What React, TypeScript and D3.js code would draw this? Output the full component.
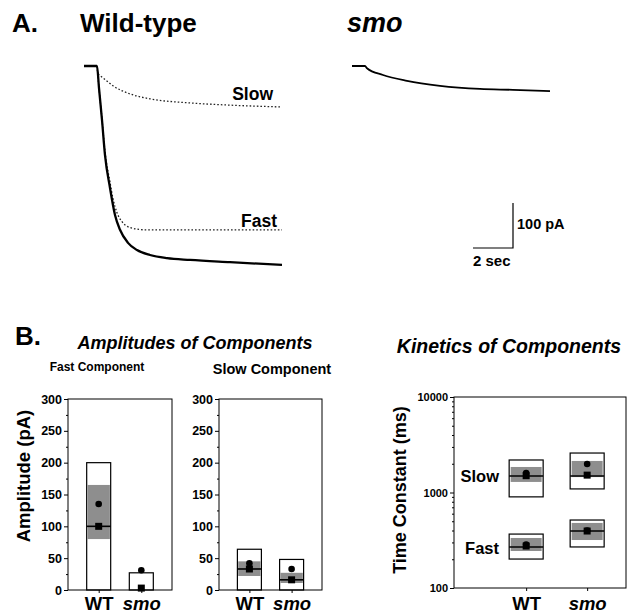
import * as d3 from "d3";
import { useEffect, useRef } from "react";

// Panel A traces (time in s, current in pA)
const wtTime = [0, 0.65, 0.75, 0.9, 1.05, 1.3, 1.55, 1.8, 2.2, 2.65, 3.3, 4.15, 5.3, 7.3, 9.9];
const wtCurrent = [0, 0, -49, -120, -198, -271, -331, -364, -393, -409, -420, -427, -431, -436, -442];
const slowFitTime = [0.7, 1.05, 1.45, 2.3, 3.3, 5.3, 7.3, 9.9];
const slowFitCurrent = [-18, -30, -44, -62, -73, -82, -87, -91];
const fastFitTime = [0.65, 0.75, 0.9, 1.05, 1.3, 1.45, 1.65, 1.9, 2.3, 3.05, 9.9];
const fastFitCurrent = [0, -49, -118, -190, -258, -295, -326, -346, -359, -364, -364];
const smoTime = [0, 0.65, 0.75, 1.55, 2.75, 4.4, 6.4, 8.05, 9.9];
const smoCurrent = [0, 0, -5, -20, -33, -44, -51, -53, -56];

// Panel B
const groups = ["WT", "smo"];
const ampTicks = [0, 50, 100, 150, 200, 250, 300];
const ampMinor = [25, 75, 125, 175, 225, 275];
const tauTicks = [100, 1000, 10000];
const tauMinor = [200, 300, 400, 500, 600, 700, 800, 900, 2000, 3000, 4000, 5000, 6000, 7000, 8000, 9000];

// amplitudes, pA (null = not drawn)
const fastAmpMax = [200, 27];
const fastAmpMin = [0, 0];
const fastAmpGreyLo = [80, null];
const fastAmpGreyHi = [165, null];
const fastAmpMedian = [100, null];
const fastAmpCircle = [135, 31];
const fastAmpSquare = [100, 3];

const slowAmpMax = [64, 48];
const slowAmpMin = [0, 0];
const slowAmpGreyLo = [22, 11];
const slowAmpGreyHi = [45, 27];
const slowAmpMedian = [33, 16];
const slowAmpCircle = [42, 33];
const slowAmpSquare = [33, 16];

// time constants, ms
const slowTauMax = [2190, 2590];
const slowTauMin = [900, 1090];
const slowTauGreyLo = [1290, 1450];
const slowTauGreyHi = [1850, 2140];
const slowTauMedian = [1490, 1490];
const slowTauCircle = [1600, 1990];
const slowTauSquare = [1500, 1520];

const fastTauMax = [367, 515];
const fastTauMin = [201, 269];
const fastTauGreyLo = [244, 318];
const fastTauGreyHi = [334, 480];
const fastTauMedian = [269, 395];
const fastTauCircle = [285, 400];
const fastTauSquare = [275, 395];

const FONT = "'Liberation Sans', Arial, Helvetica, sans-serif";
const GREY = "#8e8e8e";

function addText(g: any, x: number, y: number, str: string, size: number, opts: any = {}) {
  return g
    .append("text")
    .attr("x", x)
    .attr("y", y)
    .attr("font-family", FONT)
    .attr("font-weight", "bold")
    .attr("font-style", opts.italic ? "italic" : "normal")
    .attr("font-size", size)
    .attr("text-anchor", opts.anchor || "start")
    .attr("fill", "#000")
    .text(str);
}

function drawBoxes(g: any, x: any, y: any, w: number, s: any, inset: number) {
  groups.forEach((grp, i) => {
    const cx = x(grp);
    const top = y(s.max[i]);
    const bot = y(s.min[i]);
    g.append("rect")
      .attr("x", cx - w / 2)
      .attr("y", top)
      .attr("width", w)
      .attr("height", bot - top)
      .attr("fill", "#fff")
      .attr("stroke", "#000")
      .attr("stroke-width", 1.2);
    if (s.greyLo[i] != null) {
      g.append("rect")
        .attr("x", cx - w / 2 + inset)
        .attr("y", y(s.greyHi[i]))
        .attr("width", w - 2 * inset)
        .attr("height", y(s.greyLo[i]) - y(s.greyHi[i]))
        .attr("fill", GREY);
    }
    if (s.median[i] != null) {
      g.append("line")
        .attr("x1", cx - w / 2)
        .attr("x2", cx + w / 2)
        .attr("y1", y(s.median[i]))
        .attr("y2", y(s.median[i]))
        .attr("stroke", "#000")
        .attr("stroke-width", 1.6);
    }
    g.append("rect")
      .attr("x", cx - 3.5)
      .attr("y", y(s.square[i]) - 3.5)
      .attr("width", 7)
      .attr("height", 7)
      .attr("fill", "#000");
    g.append("circle")
      .attr("cx", cx)
      .attr("cy", y(s.circle[i]))
      .attr("r", 3.3)
      .attr("fill", "#000");
  });
}

function styleAxis(a: any, size: number) {
  a.select(".domain").remove();
  a.attr("font-family", FONT).attr("font-size", size).attr("font-weight", "bold");
  a.selectAll("line").attr("stroke", "#000");
  a.selectAll("text").attr("fill", "#000");
}

function drawAmpPlot(svg: any, left: number, right: number, s: any) {
  const top = 399,
    bottom = 590;
  const y = d3.scaleLinear().domain([0, 300]).range([bottom, top]);
  const x = d3.scalePoint().domain(groups).range([left, right]).padding(0.72);
  const g = svg.append("g");

  drawBoxes(g, x, y, 24, s, 0.8);

  g.append("rect")
    .attr("x", left)
    .attr("y", top)
    .attr("width", right - left)
    .attr("height", bottom - top)
    .attr("fill", "none")
    .attr("stroke", "#000")
    .attr("stroke-width", 1);

  g.append("g")
    .attr("transform", `translate(${left},0)`)
    .call(d3.axisLeft(y).tickValues(ampTicks).tickSize(4).tickPadding(2))
    .call((a: any) => styleAxis(a, 12.5));
  g.append("g")
    .attr("transform", `translate(${left},0)`)
    .call(d3.axisLeft(y).tickValues(ampMinor).tickSize(2).tickFormat(() => ""))
    .call((a: any) => styleAxis(a, 10));
  g.append("g")
    .attr("transform", `translate(0,${bottom})`)
    .call(d3.axisBottom(x).tickSize(3).tickPadding(4))
    .call((a: any) => {
      styleAxis(a, 18.5);
      a.selectAll("text").attr("font-style", (d: string) => (d === "smo" ? "italic" : "normal"));
    });
}

function drawTraces(svg: any) {
  const g = svg.append("g");
  const wtX = d3.scaleLinear().domain([0, 9.9]).range([84, 282]);
  const smoX = d3.scaleLinear().domain([0, 9.9]).range([352, 550]);
  const y = d3.scaleLinear().domain([0, -100]).range([66, 111]);

  const line = (xs: any, ts: number[], is: number[]) =>
    d3
      .line<number>()
      .x((_, i) => xs(ts[i]))
      .y((d) => y(d))
      .curve(d3.curveMonotoneX)(is);

  g.append("path")
    .attr("d", line(wtX, slowFitTime, slowFitCurrent))
    .attr("fill", "none")
    .attr("stroke", "#222")
    .attr("stroke-width", 1.3)
    .attr("stroke-dasharray", "1.6,2");
  g.append("path")
    .attr("d", line(wtX, fastFitTime, fastFitCurrent))
    .attr("fill", "none")
    .attr("stroke", "#222")
    .attr("stroke-width", 1.3)
    .attr("stroke-dasharray", "1.6,2");
  g.append("path")
    .attr("d", line(wtX, wtTime, wtCurrent))
    .attr("fill", "none")
    .attr("stroke", "#000")
    .attr("stroke-width", 2.3);
  g.append("path")
    .attr("d", line(smoX, smoTime, smoCurrent))
    .attr("fill", "none")
    .attr("stroke", "#000")
    .attr("stroke-width", 1.8);

  // scale bar: 100 pA / 2 sec
  const barX = 513,
    barY = 248;
  const barH = Math.abs(y(-100) - y(0));
  const barW = wtX(2) - wtX(0);
  g.append("path")
    .attr("d", `M${barX},${barY - barH}V${barY}H${barX - barW}`)
    .attr("fill", "none")
    .attr("stroke", "#000")
    .attr("stroke-width", 1.2);
  addText(g, barX + 4, 229, "100 pA", 14.5);
  addText(g, barX - barW, 266, "2 sec", 15);

  addText(g, 12, 32, "A.", 26);
  addText(g, 80, 32, "Wild-type", 26);
  addText(g, 347, 32, "smo", 27, { italic: true });
  addText(g, 273, 100, "Slow", 17.5, { anchor: "end" });
  addText(g, 277, 227, "Fast", 17.5, { anchor: "end" });
}

function drawKinetics(svg: any) {
  const left = 454,
    right = 626,
    top = 397,
    bottom = 588;
  const y = d3.scaleLog().domain([100, 10000]).range([bottom, top]);
  const x = d3.scalePoint().domain(groups).range([left, right]).padding(0.91).align(0.65);
  const g = svg.append("g");

  drawBoxes(g, x, y, 34, {
    max: slowTauMax, min: slowTauMin, greyLo: slowTauGreyLo, greyHi: slowTauGreyHi,
    median: slowTauMedian, circle: slowTauCircle, square: slowTauSquare,
  }, 1.5);
  drawBoxes(g, x, y, 34, {
    max: fastTauMax, min: fastTauMin, greyLo: fastTauGreyLo, greyHi: fastTauGreyHi,
    median: fastTauMedian, circle: fastTauCircle, square: fastTauSquare,
  }, 1.5);

  g.append("rect")
    .attr("x", left)
    .attr("y", top)
    .attr("width", right - left)
    .attr("height", bottom - top)
    .attr("fill", "none")
    .attr("stroke", "#000")
    .attr("stroke-width", 1);

  g.append("g")
    .attr("transform", `translate(${left},0)`)
    .call(d3.axisLeft(y).tickValues(tauTicks).tickSize(4).tickPadding(2).tickFormat(d3.format("d")))
    .call((a: any) => styleAxis(a, 11));
  g.append("g")
    .attr("transform", `translate(${left},0)`)
    .call(d3.axisLeft(y).tickValues(tauMinor).tickSize(2).tickFormat(() => ""))
    .call((a: any) => styleAxis(a, 10));
  g.append("g")
    .attr("transform", `translate(0,${bottom})`)
    .call(d3.axisBottom(x).tickSize(3).tickPadding(6))
    .call((a: any) => {
      styleAxis(a, 18.5);
      a.selectAll("text").attr("font-style", (d: string) => (d === "smo" ? "italic" : "normal"));
    });

  addText(g, 499, y(slowTauMedian[0]) + 6, "Slow", 16.5, { anchor: "end" });
  addText(g, 499, y(fastTauMedian[0]) + 7, "Fast", 16.5, { anchor: "end" });

  addText(g, 0, 0, "Time Constant (ms)", 18, { anchor: "middle" }).attr(
    "transform",
    "translate(406,490) rotate(-90)"
  );
  addText(g, 509, 353, "Kinetics of Components", 19.5, { anchor: "middle", italic: true });
}

export default function App() {
  const ref = useRef<SVGSVGElement>(null);

  useEffect(() => {
    const svg = d3.select(ref.current);
    svg.selectAll("*").remove();

    drawTraces(svg);

    addText(svg, 15, 345, "B.", 26);
    addText(svg, 195, 349, "Amplitudes of Components", 18, { anchor: "middle", italic: true });
    addText(svg, 97, 371, "Fast Component", 12, { anchor: "middle" });
    addText(svg, 272, 374, "Slow Component", 14.5, { anchor: "middle" });
    addText(svg, 0, 0, "Amplitude (pA)", 18.5, { anchor: "middle" }).attr(
      "transform",
      "translate(30,476) rotate(-90)"
    );

    drawAmpPlot(svg, 68, 172, {
      max: fastAmpMax, min: fastAmpMin, greyLo: fastAmpGreyLo, greyHi: fastAmpGreyHi,
      median: fastAmpMedian, circle: fastAmpCircle, square: fastAmpSquare,
    });
    drawAmpPlot(svg, 219, 322, {
      max: slowAmpMax, min: slowAmpMin, greyLo: slowAmpGreyLo, greyHi: slowAmpGreyHi,
      median: slowAmpMedian, circle: slowAmpCircle, square: slowAmpSquare,
    });

    drawKinetics(svg);
  }, []);

  return (
    <svg
      ref={ref}
      width={629}
      height={616}
      style={{ position: "absolute", left: 0, top: 0, background: "#fff" }}
    />
  );
}
